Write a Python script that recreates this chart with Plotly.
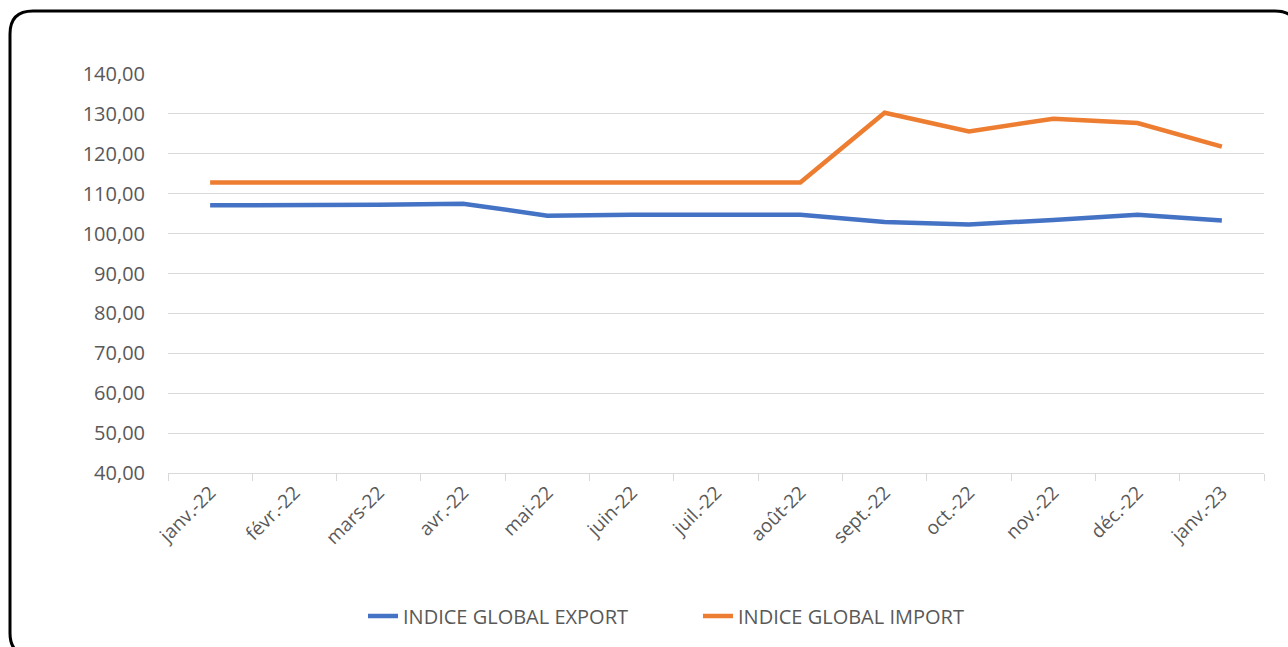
import plotly.graph_objects as go

mois = ['janv.-22', 'févr.-22', 'mars-22', 'avr.-22', 'mai-22', 'juin-22', 'juil.-22',
        'août-22', 'sept.-22', 'oct.-22', 'nov.-22', 'déc.-22', 'janv.-23']
export = [107.1, 107.1, 107.2, 107.5, 104.5, 104.7, 104.7, 104.7, 102.9, 102.3, 103.4, 104.7, 103.3]
import_ = [112.8, 112.8, 112.8, 112.8, 112.8, 112.8, 112.8, 112.8, 130.3, 125.6, 128.8, 127.7, 121.8]

W, H = 1288, 647
L, R, T, B = 168, 24, 74, 174
pw, ph = W - L - R, H - T - B


def px(x):
    return (x - L) / pw


def py(y):
    return (H - B - y) / ph


fig = go.Figure()
fig.add_trace(go.Scatter(x=mois, y=export, name='INDICE GLOBAL EXPORT', mode='lines',
                         line=dict(color='#4472C4', width=4.5)))
fig.add_trace(go.Scatter(x=mois, y=import_, name='INDICE GLOBAL IMPORT', mode='lines',
                         line=dict(color='#ED7D31', width=4.5)))

# cadre arrondi autour du graphique
x0, y0, x1, y1, r = 10, 11, 1298, 656, 23
chemin = (f"M {px(x0)},{py(y0 + r)} Q {px(x0)},{py(y0)} {px(x0 + r)},{py(y0)} "
          f"L {px(x1 - r)},{py(y0)} Q {px(x1)},{py(y0)} {px(x1)},{py(y0 + r)} "
          f"L {px(x1)},{py(y1 - r)} Q {px(x1)},{py(y1)} {px(x1 - r)},{py(y1)} "
          f"L {px(x0 + r)},{py(y1)} Q {px(x0)},{py(y1)} {px(x0)},{py(y1 - r)} Z")

fig.update_layout(
    width=W, height=H,
    margin=dict(l=L, r=R, t=T, b=B),
    paper_bgcolor='white', plot_bgcolor='white',
    font=dict(family='Open Sans', size=20, color='#595959'),
    separators=', ',
    shapes=[dict(type='path', path=chemin, xref='paper', yref='paper',
                 line=dict(color='black', width=3))],
    xaxis=dict(type='category', range=[-0.5, len(mois) - 0.5], tickangle=-45,
               tickson='boundaries', ticks='outside',
               ticklen=7, tickcolor='#D9D9D9', showline=True, linecolor='#D9D9D9',
               linewidth=1, showgrid=False, tickfont=dict(size=19)),
    yaxis=dict(range=[40, 140], dtick=10, tickformat='.2f', ticklabelstandoff=22,
               gridcolor='#D9D9D9', gridwidth=1.3, zeroline=False, showline=False,
               ticks='', tickfont=dict(size=20)),
    legend=dict(orientation='h', x=px(363), xanchor='left', y=py(616), yanchor='middle',
                font=dict(size=20), entrywidth=290),
    showlegend=True,
)

fig.write_html("out.html", config={'displayModeBar': False},
               post_script="document.body.style.margin='0';")
